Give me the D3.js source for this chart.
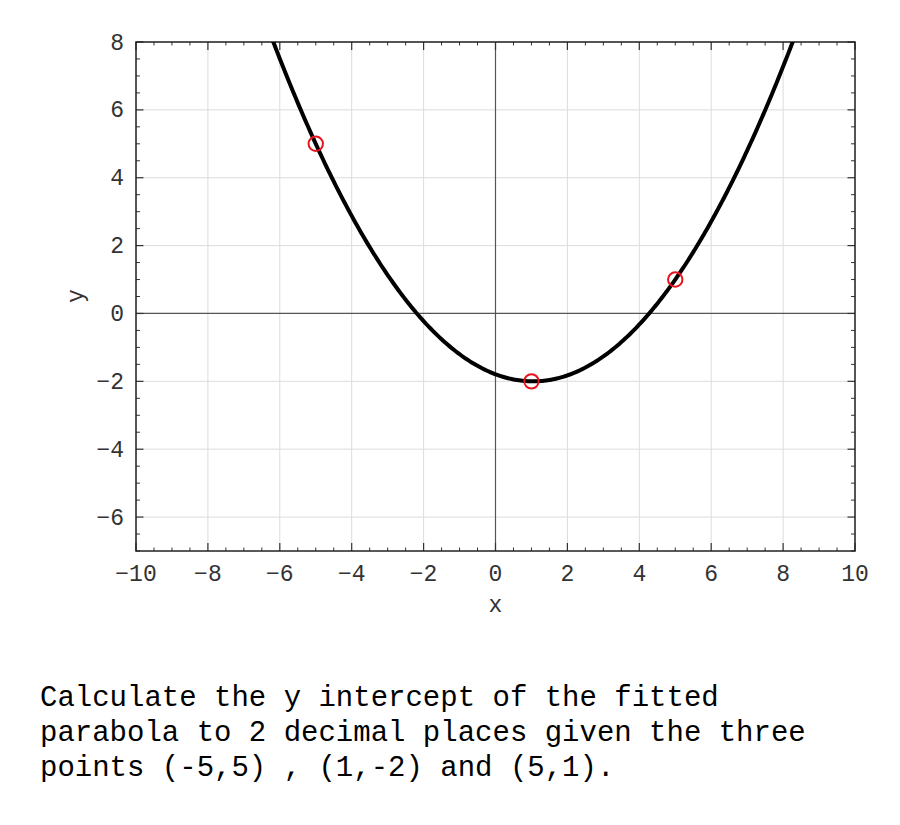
<!DOCTYPE html>
<html><head><meta charset="utf-8">
<script src="https://cdn.jsdelivr.net/npm/d3@7"></script>
<style>body{margin:0;background:#fff}svg{display:block}</style>
</head><body>
<svg id="chart" width="900" height="825"></svg>
<script>
const pointsX = [-5, 1, 5];
const pointsY = [5, -2, 1];
const xTicks = [-10, -8, -6, -4, -2, 0, 2, 4, 6, 8, 10];
const yTicks = [-6, -4, -2, 0, 2, 4, 6, 8];
const xDomain = [-10, 10];
const yDomain = [-7, 8];
const questionLines = [
  "Calculate the y intercept of the fitted",
  "parabola to 2 decimal places given the three",
  "points (-5,5) , (1,-2) and (5,1)."
];

// Fit parabola through the three points (Lagrange form)
function fitted(x) {
  let s = 0;
  for (let i = 0; i < 3; i++) {
    let t = pointsY[i];
    for (let j = 0; j < 3; j++) if (j !== i) t *= (x - pointsX[j]) / (pointsX[i] - pointsX[j]);
    s += t;
  }
  return s;
}

const svg = d3.select("#chart");
const L = 136, R = 855, T = 42, B = 551;
const x = d3.scaleLinear().domain(xDomain).range([L, R]);
const y = d3.scaleLinear().domain(yDomain).range([B, T]);
const font = "'Liberation Mono', 'Courier New', monospace";

// grid
const g = svg.append("g");
g.selectAll(".gx").data(xTicks).join("line")
  .attr("x1", d => x(d)).attr("x2", d => x(d)).attr("y1", T).attr("y2", B)
  .attr("stroke", "#dcdcdc").attr("stroke-width", 1);
g.selectAll(".gy").data(yTicks).join("line")
  .attr("y1", d => y(d)).attr("y2", d => y(d)).attr("x1", L).attr("x2", R)
  .attr("stroke", "#dcdcdc").attr("stroke-width", 1);

// zero axes
svg.append("line").attr("x1", x(0)).attr("x2", x(0)).attr("y1", T).attr("y2", B)
  .attr("stroke", "#555").attr("stroke-width", 1.2);
svg.append("line").attr("y1", y(0)).attr("y2", y(0)).attr("x1", L).attr("x2", R)
  .attr("stroke", "#555").attr("stroke-width", 1.2);

// minor + major ticks on all four sides
const xMinor = d3.range(xDomain[0], xDomain[1] + 0.001, 0.5).filter(v => Math.abs(v % 2) > 1e-9);
const yMinor = d3.range(yDomain[0], yDomain[1] + 0.001, 0.5).filter(v => Math.abs(v % 2) > 1e-9);
const tk = svg.append("g").attr("stroke", "#333");
function xt(data, len, w) {
  tk.selectAll(null).data(data).join("line")
    .attr("x1", d => x(d)).attr("x2", d => x(d)).attr("y1", B).attr("y2", B - len).attr("stroke-width", w);
  tk.selectAll(null).data(data).join("line")
    .attr("x1", d => x(d)).attr("x2", d => x(d)).attr("y1", T).attr("y2", T + len).attr("stroke-width", w);
}
function yt(data, len, w) {
  tk.selectAll(null).data(data).join("line")
    .attr("y1", d => y(d)).attr("y2", d => y(d)).attr("x1", L).attr("x2", L + len).attr("stroke-width", w);
  tk.selectAll(null).data(data).join("line")
    .attr("y1", d => y(d)).attr("y2", d => y(d)).attr("x1", R).attr("x2", R - len).attr("stroke-width", w);
}
xt(xMinor, 3.5, 1); xt(xTicks, 8, 1.2);
yt(yMinor, 4, 1); yt(yTicks, 7.5, 1.2);

// frame
svg.append("rect").attr("x", L).attr("y", T).attr("width", R - L).attr("height", B - T)
  .attr("fill", "none").attr("stroke", "#222").attr("stroke-width", 1.5);

// tick labels
const fmt = d => (d < 0 ? "\u2212" + Math.abs(d) : String(d));
svg.selectAll(".xl").data(xTicks).join("text")
  .attr("x", d => x(d)).attr("y", 581).attr("text-anchor", "middle")
  .attr("font-family", font).attr("font-size", 23).attr("fill", "#333").text(fmt);
svg.selectAll(".yl").data(yTicks).join("text")
  .attr("x", 124).attr("y", d => y(d) + 7.5).attr("text-anchor", "end")
  .attr("font-family", font).attr("font-size", 23).attr("fill", "#333").text(fmt);

// axis labels
svg.append("text").attr("x", x(0)).attr("y", 612).attr("text-anchor", "middle")
  .attr("font-family", font).attr("font-size", 23).attr("fill", "#333").text("x");
svg.append("text").attr("transform", `translate(83,296) rotate(-90)`).attr("text-anchor", "middle")
  .attr("font-family", font).attr("font-size", 23).attr("fill", "#333").text("y");

// curve
svg.append("clipPath").attr("id", "clip").append("rect")
  .attr("x", L).attr("y", T).attr("width", R - L).attr("height", B - T);
const xs = d3.range(xDomain[0], xDomain[1] + 0.0001, 0.05);
svg.append("path").attr("clip-path", "url(#clip)")
  .datum(xs)
  .attr("d", d3.line().x(d => x(d)).y(d => y(fitted(d))))
  .attr("fill", "none").attr("stroke", "#000").attr("stroke-width", 4);

// points
svg.selectAll(".pt").data(pointsX).join("circle")
  .attr("cx", d => x(d)).attr("cy", (d, i) => y(pointsY[i])).attr("r", 7.2)
  .attr("fill", "none").attr("stroke", "#e8141c").attr("stroke-width", 2);

// question text
svg.selectAll(".q").data(questionLines).join("text")
  .attr("x", 40).attr("y", (d, i) => 706 + i * 35)
  .attr("font-family", font).attr("font-size", 29).attr("fill", "#000")
  .attr("xml:space", "preserve").style("white-space", "pre").text(d => d);
</script>
</body></html>
